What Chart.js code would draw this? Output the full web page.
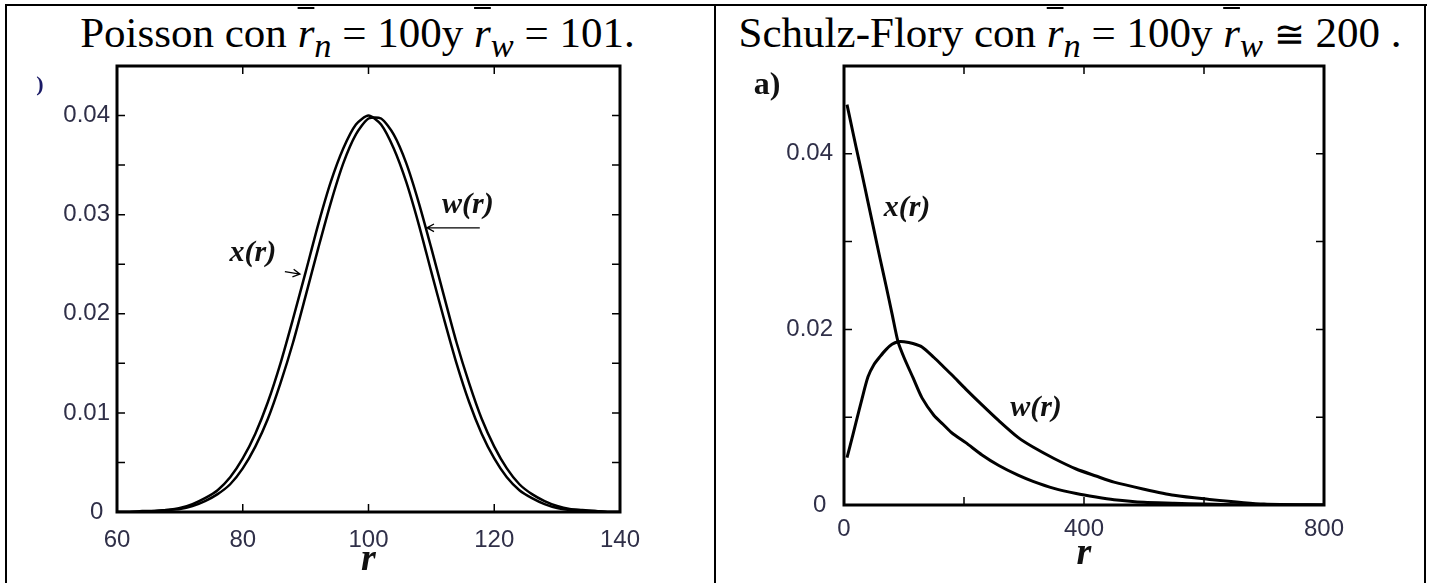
<!DOCTYPE html>
<html><head><meta charset="utf-8">
<script src="https://cdn.jsdelivr.net/npm/chart.js@4.4.0/dist/chart.umd.min.js"></script>
<style>
html,body{margin:0;padding:0;background:#fff;width:1432px;height:583px;overflow:hidden;position:relative;}
.ln{position:absolute;background:#000;}
.title{position:absolute;top:11px;font-family:'Liberation Serif','Times New Roman',serif;font-size:43px;line-height:43px;text-align:center;white-space:nowrap;color:#000;}
.ov{text-decoration:overline;text-decoration-thickness:2px;font-style:italic;}
.title sub{font-size:0.8em;font-style:italic;vertical-align:-0.3em;line-height:0;}
.cong{font-family:'DejaVu Sans','Liberation Serif',serif;font-weight:200;font-size:0.85em;}
canvas{position:absolute;top:0;}
</style></head><body>
<div class="ln" style="left:5px;top:4px;width:1422px;height:2px"></div>
<div class="ln" style="left:5px;top:4px;width:2px;height:579px"></div>
<div class="ln" style="left:714px;top:4px;width:2px;height:579px"></div>
<div class="ln" style="left:1424px;top:4px;width:2px;height:579px"></div>
<div class="title" style="left:4px;width:707px">Poisson con <span class="ov">r</span><sub>n</sub> = 100y <span class="ov">r</span><sub>w</sub> = 101.</div>
<div class="title" style="left:716px;width:708px">Schulz-Flory con <span class="ov">r</span><sub>n</sub> = 100y <span class="ov">r</span><sub>w</sub> <span class="cong">≅</span> 200 .</div>
<canvas id="c1" width="716" height="583" style="left:0"></canvas>
<canvas id="c2" width="716" height="583" style="left:716px"></canvas>
<script>
// ---------- data ----------
const poissonR = [60,62,64,66,68,70,72,74,76,78,80,82,84,86,88,90,92,94,96,98,100,102,104,106,108,110,112,114,116,118,120,122,124,126,128,130,132,134,136,138,140];
const poissonX = [0,0,0.0001,0.0001,0.0002,0.0004,0.0008,0.0014,0.0022,0.0035,0.0054,0.0079,0.0111,0.0150,0.0195,0.0242,0.0290,0.0333,0.0367,0.0391,0.0400,0.0391,0.0367,0.0333,0.0290,0.0242,0.0195,0.0150,0.0111,0.0079,0.0054,0.0035,0.0022,0.0014,0.0008,0.0004,0.0002,0.0001,0.0001,0,0];
const poissonW = [0,0,0,0.0001,0.0002,0.0003,0.0006,0.0011,0.0018,0.0028,0.0044,0.0066,0.0094,0.0130,0.0171,0.0218,0.0266,0.0312,0.0352,0.0381,0.0397,0.0397,0.0381,0.0352,0.0312,0.0266,0.0218,0.0171,0.0130,0.0094,0.0066,0.0044,0.0028,0.0018,0.0011,0.0006,0.0003,0.0002,0.0001,0,0];

const sfR = [5,10,20,30,40,50,60,70,80,90,100,115,130,150,165,180,203,230,258,290,315,350,387,420,450,500,550,600,700,800];
const sfX = [0.0456,0.0440,0.0408,0.0377,0.0345,0.0313,0.0281,0.0250,0.0218,0.0186,0.0168,0.0145,0.0122,0.0102,0.0092,0.0082,0.0071,0.0057,0.0045,0.0034,0.0027,0.0019,0.0013,0.0009,0.0006,0.0003,0.0002,0.0001,0,0];
const sfW = [0.0054,0.0067,0.0094,0.0121,0.0146,0.0160,0.0169,0.0177,0.0183,0.0186,0.0186,0.0184,0.0180,0.0168,0.0158,0.0148,0.0132,0.0114,0.0096,0.0077,0.0066,0.0053,0.0041,0.0033,0.0026,0.0018,0.0011,0.0007,0.0001,0];

const poissonXLabels = [60,80,100,120,140];
const poissonYLabels = [0,0.01,0.02,0.03,0.04];
const sfXLabels = [0,400,800];
const sfYLabels = [0,0.02,0.04];

// ---------- helpers ----------
const near = (list, v) => list.some(l => Math.abs(l - v) < 1e-9);
const yFmt = v => v === 0 || Math.abs(v) < 1e-12 ? '0 ' : v.toFixed(2);
const pts = (xs, ys) => xs.map((x, i) => ({x, y: ys[i]}));
const TICK_FONT = {family: "'Liberation Sans', Arial, sans-serif", size: 24};
const TICK_COLOR = '#2f2f48';

const framePlugin = {
  id: 'frame',
  afterDatasetsDraw(chart, args, o) {
    const {ctx, chartArea: a, scales: {x, y}} = chart;
    ctx.save();
    ctx.strokeStyle = '#000';
    ctx.lineWidth = o.tickWidth;
    ctx.beginPath();
    x.ticks.forEach(t => {
      const p = x.getPixelForValue(t.value);
      ctx.moveTo(p, a.bottom); ctx.lineTo(p, a.bottom - o.tickLen);
      ctx.moveTo(p, a.top); ctx.lineTo(p, a.top + o.tickLen);
    });
    y.ticks.forEach(t => {
      const p = y.getPixelForValue(t.value);
      ctx.moveTo(a.left, p); ctx.lineTo(a.left + o.tickLen, p);
      ctx.moveTo(a.right, p); ctx.lineTo(a.right - o.tickLen, p);
    });
    ctx.stroke();
    ctx.lineWidth = o.frameWidth;
    ctx.strokeRect(a.left, a.top, a.right - a.left, a.bottom - a.top);
    // arrows
    ctx.lineWidth = 1.3;
    (o.arrows || []).forEach(ar => {
      const x1 = x.getPixelForValue(ar.x1), y1 = y.getPixelForValue(ar.y1);
      const x2 = x.getPixelForValue(ar.x2), y2 = y.getPixelForValue(ar.y2);
      const ang = Math.atan2(y2 - y1, x2 - x1), h = 8;
      ctx.beginPath();
      ctx.moveTo(x1, y1); ctx.lineTo(x2, y2);
      ctx.moveTo(x2 - h * Math.cos(ang - 0.5), y2 - h * Math.sin(ang - 0.5));
      ctx.lineTo(x2, y2);
      ctx.lineTo(x2 - h * Math.cos(ang + 0.5), y2 - h * Math.sin(ang + 0.5));
      ctx.stroke();
    });
    // labels
    ctx.textAlign = 'center';
    ctx.textBaseline = 'middle';
    (o.labels || []).forEach(l => {
      ctx.font = l.font;
      ctx.fillStyle = l.color || '#111';
      ctx.fillText(l.text, x.getPixelForValue(l.x), y.getPixelForValue(l.y));
    });
    ctx.restore();
  }
};

function lineSet(data, w) {
  return {data, borderColor: '#000', borderWidth: w, pointRadius: 0, tension: 0.25, fill: false};
}

function makeChart(id, cfg) {
  return new Chart(document.getElementById(id), {
    type: 'line',
    data: {datasets: cfg.datasets},
    plugins: [framePlugin],
    options: {
      responsive: false, animation: false, devicePixelRatio: 1,
      layout: {padding: cfg.padding},
      plugins: {legend: {display: false}, tooltip: {enabled: false}, frame: cfg.frame},
      scales: {
        x: {
          type: 'linear', min: cfg.xMin, max: cfg.xMax,
          grid: {display: false, drawTicks: false, tickLength: 0}, border: {display: false},
          afterFit: s => { s.height = cfg.xHeight; },
          ticks: {stepSize: cfg.xStep, autoSkip: false, maxRotation: 0, padding: cfg.xPad, font: TICK_FONT, color: TICK_COLOR,
                  callback: v => near(cfg.xLabels, v) ? String(v) : ''},
          title: {display: true, text: 'r', color: '#111', padding: {top: 0, bottom: cfg.titlePad},
                  font: {family: "'Liberation Serif', 'Times New Roman', serif", style: 'italic', weight: 'bold', size: 38}}
        },
        y: {
          type: 'linear', min: 0, max: cfg.yMax,
          grid: {display: false, drawTicks: false, tickLength: 0}, border: {display: false},
          afterFit: s => { s.width = cfg.yWidth; },
          ticks: {stepSize: cfg.yStep, autoSkip: false, padding: cfg.yPad, font: TICK_FONT, color: TICK_COLOR,
                  callback: v => near(cfg.yLabels, v) ? yFmt(v) : ''}
        }
      }
    }
  });
}

const LABEL_FONT = "italic bold 30px 'Liberation Serif', 'Times New Roman', serif";

makeChart('c1', {
  datasets: [lineSet(pts(poissonR, poissonX), 2.5), lineSet(pts(poissonR, poissonW), 2.5)],
  padding: {top: 66, right: 96, left: 0, bottom: 0},
  xMin: 60, xMax: 140, xStep: 20, xLabels: poissonXLabels, xHeight: 71, xPad: 14, titlePad: 0,
  yMax: 0.045, yStep: 0.005, yLabels: poissonYLabels, yWidth: 117, yPad: 7,
  frame: {
    tickLen: 8, tickWidth: 1.5, frameWidth: 3,
    labels: [
      {text: 'x(r)', x: 81.6, y: 0.0261, font: LABEL_FONT},
      {text: 'w(r)', x: 115.8, y: 0.0310, font: LABEL_FONT},
      {text: ')', x: 47.75, y: 0.0431, font: "bold 22px 'Liberation Serif', serif", color: '#1a1a66'}
    ],
    arrows: [
      {x1: 86.7, y1: 0.02425, x2: 89.1, y2: 0.0240},
      {x1: 117.7, y1: 0.02867, x2: 109.3, y2: 0.02867}
    ]
  }
});

makeChart('c2', {
  datasets: [lineSet(pts(sfR, sfX), 3), lineSet(pts(sfR, sfW), 3)],
  padding: {top: 66, right: 108, left: 0, bottom: 0},
  xMin: 0, xMax: 800, xStep: 200, xLabels: sfXLabels, xHeight: 78, xPad: 10, titlePad: 6,
  yMax: 0.05, yStep: 0.01, yLabels: sfYLabels, yWidth: 128, yPad: 11,
  frame: {
    tickLen: 8, tickWidth: 1.5, frameWidth: 3,
    labels: [
      {text: 'x(r)', x: 105, y: 0.0338, font: LABEL_FONT},
      {text: 'w(r)', x: 320, y: 0.0110, font: LABEL_FONT},
      {text: 'a)', x: -128, y: 0.0478, font: "bold 32px 'Liberation Serif', 'Times New Roman', serif"}
    ],
    arrows: []
  }
});
</script>
</body></html>
